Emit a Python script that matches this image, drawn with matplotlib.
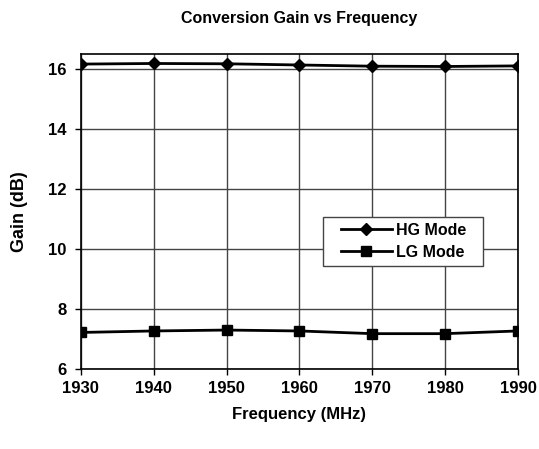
import matplotlib
matplotlib.use("Agg")
import matplotlib.pyplot as plt
from matplotlib.patches import Rectangle

freq = [1930, 1940, 1950, 1960, 1970, 1980, 1990]
hg_gain = [16.16, 16.18, 16.17, 16.13, 16.09, 16.08, 16.10]
lg_gain = [7.22, 7.27, 7.30, 7.27, 7.18, 7.18, 7.27]
yticks = [6, 8, 10, 12, 14, 16]

plt.rcParams['font.family'] = ['Liberation Sans Narrow', 'Liberation Sans', 'DejaVu Sans']
plt.rcParams['font.weight'] = 'bold'

fig = plt.figure(figsize=(5.39, 4.49), dpi=100)
ax = fig.add_axes([0.150, 0.178, 0.811, 0.702])

ax.plot(freq, hg_gain, color='black', lw=2, marker='D', ms=6, label='HG Mode')
ax.plot(freq, lg_gain, color='black', lw=2, marker='s', ms=7, label='LG Mode')

ax.set_xlim(1930, 1990)
ax.set_ylim(6, 16.5)
ax.set_xticks(freq)
ax.set_yticks(yticks)
ax.grid(True, color='#444444', lw=1)
ax.tick_params(axis='both', labelsize=12, direction='out', length=4.5, width=1)
ax.tick_params(axis='x', pad=4)
ax.tick_params(axis='y', pad=6)
for s in ax.spines.values():
    s.set_linewidth(1.2)

ax.set_title('Conversion Gain vs Frequency', fontsize=11.5, fontweight='bold', pad=22)
ax.set_xlabel('Frequency (MHz)', fontsize=12, fontweight='bold', labelpad=8)
ax.set_ylabel('Gain (dB)', fontsize=13, fontweight='bold', labelpad=14)

# legend frame drawn as its own box (wider than the entries, like the original)
ax.add_patch(Rectangle((0.554, 0.327), 0.366, 0.156, transform=ax.transAxes,
                       facecolor='white', edgecolor='#444444', lw=1, zorder=3))
leg = ax.legend(loc='center', bbox_to_anchor=(0.738, 0.405), fontsize=11.5,
                frameon=False, handlelength=3.2, labelspacing=0.45, handletextpad=0.25)
leg.set_zorder(5)

fig.savefig('out.png', dpi=100)
